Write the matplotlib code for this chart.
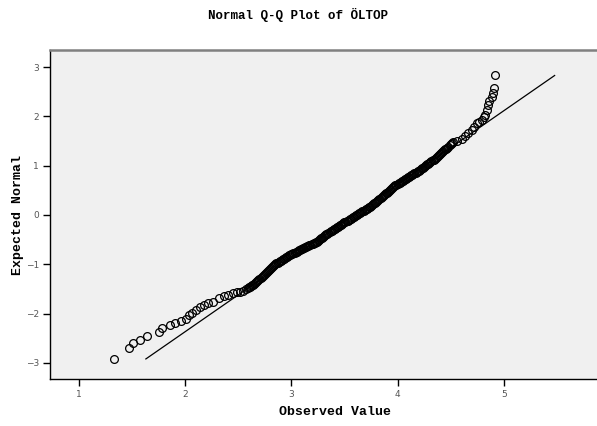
import matplotlib
matplotlib.use("Agg")
import matplotlib.pyplot as plt

# observed value / expected normal pairs, read off the reference
# lower tail (separate circles)
obs_low = [1.334, 1.470, 1.509, 1.572, 1.645, 1.754, 1.781, 1.858, 1.907, 1.965,
           2.006, 2.039, 2.062, 2.100, 2.138, 2.175, 2.216, 2.263, 2.320, 2.364,
           2.404, 2.451, 2.486, 2.515, 2.545, 2.570, 2.590]
exp_low = [-2.93, -2.70, -2.60, -2.53, -2.46, -2.38, -2.30, -2.24, -2.20, -2.15,
           -2.10, -2.03, -1.98, -1.93, -1.86, -1.83, -1.79, -1.76, -1.69, -1.65,
           -1.62, -1.59, -1.57, -1.56, -1.54, -1.51, -1.49]

# dense middle band
obs_mid = [2.60, 2.61, 2.62, 2.63, 2.64, 2.65, 2.66, 2.67, 2.68, 2.69,
           2.70, 2.71, 2.72, 2.73, 2.74, 2.75, 2.76, 2.77, 2.78, 2.79,
           2.80, 2.81, 2.82, 2.83, 2.84, 2.85, 2.86, 2.87, 2.88, 2.89,
           2.90, 2.91, 2.92, 2.93, 2.94, 2.95, 2.96, 2.97, 2.98, 2.99,
           3.00, 3.01, 3.02, 3.03, 3.04, 3.05, 3.06, 3.07, 3.08, 3.09,
           3.10, 3.11, 3.12, 3.13, 3.14, 3.15, 3.16, 3.17, 3.18, 3.19,
           3.20, 3.21, 3.22, 3.23, 3.24, 3.25, 3.26, 3.27, 3.28, 3.29,
           3.30, 3.31, 3.32, 3.33, 3.34, 3.35, 3.36, 3.37, 3.38, 3.39,
           3.40, 3.41, 3.42, 3.43, 3.44, 3.45, 3.46, 3.47, 3.48, 3.49,
           3.50, 3.51, 3.52, 3.53, 3.54, 3.55, 3.56, 3.57, 3.58, 3.59,
           3.60, 3.61, 3.62, 3.63, 3.64, 3.65, 3.66, 3.67, 3.68, 3.69,
           3.70, 3.71, 3.72, 3.73, 3.74, 3.75, 3.76, 3.77, 3.78, 3.79,
           3.80, 3.81, 3.82, 3.83, 3.84, 3.85, 3.86, 3.87, 3.88, 3.89,
           3.90, 3.91, 3.92, 3.93, 3.94, 3.95, 3.96, 3.97, 3.98, 3.99,
           4.00, 4.01, 4.02, 4.03, 4.04, 4.05, 4.06, 4.07, 4.08, 4.09,
           4.10, 4.11, 4.12, 4.13, 4.14, 4.15, 4.16, 4.17, 4.18, 4.19,
           4.20, 4.21, 4.22, 4.23, 4.24, 4.25, 4.26, 4.27, 4.28, 4.29,
           4.30, 4.31, 4.32, 4.33, 4.34, 4.35, 4.36, 4.37, 4.38, 4.39,
           4.40, 4.41, 4.42, 4.43, 4.44, 4.45, 4.46, 4.47, 4.48, 4.49,
           4.50, 4.51, 4.52]
exp_mid = [-1.470, -1.456, -1.442, -1.428, -1.414, -1.400, -1.380, -1.360, -1.340, -1.320,
           -1.300, -1.280, -1.260, -1.240, -1.218, -1.198, -1.178, -1.158, -1.138, -1.118,
           -1.100, -1.080, -1.060, -1.040, -1.020, -1.000, -0.980, -0.966, -0.953, -0.939,
           -0.926, -0.912, -0.899, -0.885, -0.872, -0.858, -0.845, -0.831, -0.818, -0.806,
           -0.795, -0.784, -0.773, -0.762, -0.751, -0.741, -0.730, -0.719, -0.708, -0.697,
           -0.686, -0.676, -0.666, -0.655, -0.645, -0.634, -0.624, -0.613, -0.603, -0.592,
           -0.582, -0.571, -0.561, -0.550, -0.540, -0.522, -0.506, -0.490, -0.474, -0.457,
           -0.441, -0.425, -0.409, -0.393, -0.376, -0.360, -0.344, -0.329, -0.316, -0.302,
           -0.288, -0.275, -0.261, -0.247, -0.234, -0.220, -0.206, -0.193, -0.179, -0.166,
           -0.152, -0.139, -0.125, -0.112, -0.099, -0.085, -0.072, -0.059, -0.045, -0.032,
           -0.019, -0.005, 0.008, 0.021, 0.035, 0.048, 0.061, 0.075, 0.088, 0.101,
           0.115, 0.128, 0.141, 0.155, 0.168, 0.185, 0.201, 0.218, 0.235, 0.251,
           0.268, 0.285, 0.301, 0.318, 0.337, 0.357, 0.377, 0.397, 0.417, 0.437,
           0.456, 0.476, 0.496, 0.516, 0.536, 0.556, 0.575, 0.589, 0.602, 0.615,
           0.629, 0.642, 0.656, 0.669, 0.682, 0.696, 0.709, 0.723, 0.736, 0.749,
           0.763, 0.776, 0.790, 0.803, 0.817, 0.830, 0.844, 0.857, 0.871, 0.884,
           0.898, 0.911, 0.927, 0.944, 0.960, 0.976, 0.992, 1.009, 1.025, 1.041,
           1.057, 1.074, 1.090, 1.106, 1.123, 1.142, 1.161, 1.179, 1.198, 1.217,
           1.236, 1.254, 1.273, 1.292, 1.310, 1.329, 1.348, 1.368, 1.389, 1.411,
           1.433, 1.454, 1.476]

# upper tail
obs_high = [4.560, 4.604, 4.640, 4.666, 4.698, 4.720, 4.745, 4.770, 4.793, 4.810,
            4.824, 4.845, 4.855, 4.864, 4.887, 4.896, 4.911, 4.918]
exp_high = [1.51, 1.535, 1.60, 1.657, 1.73, 1.791, 1.860, 1.89, 1.927, 1.98,
            2.028, 2.130, 2.231, 2.318, 2.400, 2.469, 2.570, 2.840]

obs = obs_low + obs_mid + obs_high
expected = exp_low + exp_mid + exp_high

# reference normal line
line_x = [1.63, 5.48]
line_y = [-2.92, 2.83]

x_ticks = [1, 2, 3, 4, 5]
y_ticks = [-3, -2, -1, 0, 1, 2, 3]

mono = 'Liberation Mono'

fig = plt.figure(figsize=(5.97, 4.26), dpi=100)
fig.patch.set_facecolor('white')
ax = fig.add_axes([50 / 597, 47 / 426, 547 / 597, 329 / 426])
ax.set_facecolor('#f0f0f0')

ax.plot(line_x, line_y, color='black', lw=0.9, zorder=2)
ax.plot(obs, expected, ls='none', marker='o', ms=5.6, mfc='none',
        mec='black', mew=0.9, zorder=3)

ax.set_xlim(0.727, 5.879)
ax.set_ylim(-3.327, 3.347)
ax.set_xticks(x_ticks)
ax.set_yticks(y_ticks)
ax.tick_params(direction='out', length=5, width=1, color='black',
               labelsize=6.5, labelcolor='#555555', pad=3)

for s in ['left', 'bottom']:
    ax.spines[s].set_color('black')
    ax.spines[s].set_linewidth(1)
ax.spines['right'].set_visible(False)
ax.spines['top'].set_color('#808080')
ax.spines['top'].set_linewidth(1.8)

fig.text(335 / 597, 1 - 412 / 426, 'Observed Value', family=mono, weight='bold',
         size=9.5, ha='center', va='center')
fig.text(18 / 597, 1 - 215 / 426, 'Expected Normal', family=mono, weight='bold',
         size=9.5, ha='center', va='center', rotation=90)
fig.text(0.5, 1 - 15 / 426, 'Normal Q-Q Plot of ÖLTOP', family=mono,
         weight='bold', size=9, ha='center', va='center')

fig.savefig('out.png', dpi=100)
